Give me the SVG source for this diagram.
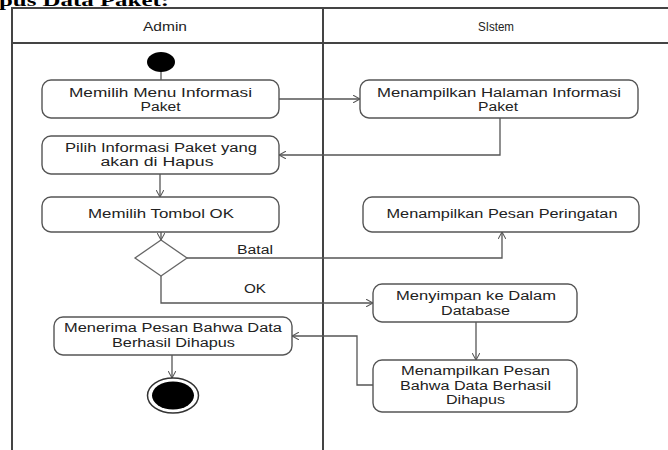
<svg xmlns="http://www.w3.org/2000/svg" width="668" height="450" viewBox="0 0 668 450">
<style>
.frame{stroke:#444;stroke-width:2;fill:none}
.box{fill:#fff;stroke:#555;stroke-width:1.4}
.t{font-family:"Liberation Sans","Open Sans",sans-serif;font-size:12.5px;fill:#222;text-anchor:middle}
.c{fill:none;stroke:#555;stroke-width:1.3}
.title{font-family:"Liberation Serif",serif;font-weight:bold;font-size:17px;fill:#000}
</style>
<defs>
<marker id="arr" viewBox="0 0 10 10" refX="9" refY="5" markerWidth="8" markerHeight="8" markerUnits="userSpaceOnUse" orient="auto">
<path d="M0,0 L9,5 L0,10" fill="none" stroke="#555" stroke-width="1.3"/>
</marker>
</defs>
<rect width="668" height="450" fill="#fff"/>
<text class="title" x="-1" y="6" textLength="170" lengthAdjust="spacingAndGlyphs">pus Data Paket:</text>
<g id="swimlanes">
<path class="frame" d="M12,450 V8 H668 M12,43 H668 M323,8 V450"/>
<text class="t" x="165" y="31" textLength="44" lengthAdjust="spacingAndGlyphs">Admin</text>
<text class="t" x="496" y="31" textLength="36" lengthAdjust="spacingAndGlyphs">SIstem</text>
</g>
<g id="connectors">
<line class="c" x1="161" y1="70" x2="161" y2="80"/>
<line class="c" x1="279" y1="99" x2="360" y2="99" marker-end="url(#arr)"/>
<path class="c" d="M500,118 V155 H279" marker-end="url(#arr)"/>
<line class="c" x1="160" y1="174" x2="160" y2="197" marker-end="url(#arr)"/>
<line class="c" x1="161" y1="232" x2="161" y2="240" marker-end="url(#arr)"/>
<path class="c" d="M187,258 H502 V232" marker-end="url(#arr)"/>
<path class="c" d="M161,276 V303 H373" marker-end="url(#arr)"/>
<line class="c" x1="476" y1="322" x2="476" y2="360" marker-end="url(#arr)"/>
<path class="c" d="M373,385 H357 V336 H292" marker-end="url(#arr)"/>
<line class="c" x1="172" y1="355" x2="172" y2="378" marker-end="url(#arr)"/>
<text class="t" x="255" y="254" textLength="36" lengthAdjust="spacingAndGlyphs">Batal</text>
<text class="t" x="255" y="293" textLength="22" lengthAdjust="spacingAndGlyphs">OK</text>
</g>
<g id="start">
<ellipse cx="161" cy="62" rx="14" ry="10" fill="#000"/>
</g>
<g id="n1">
<rect class="box" x="42" y="80" width="237" height="38" rx="9"/>
<text class="t" x="160.5" y="97" textLength="183" lengthAdjust="spacingAndGlyphs">Memilih Menu Informasi</text>
<text class="t" x="160.5" y="111" textLength="40" lengthAdjust="spacingAndGlyphs">Paket</text>
</g>
<g id="n2">
<rect class="box" x="42" y="136" width="237" height="38" rx="9"/>
<text class="t" x="161" y="152" textLength="192" lengthAdjust="spacingAndGlyphs">Pilih Informasi Paket yang</text>
<text class="t" x="157" y="166" textLength="113" lengthAdjust="spacingAndGlyphs">akan di Hapus</text>
</g>
<g id="n3">
<rect class="box" x="42" y="197" width="237" height="35" rx="9"/>
<text class="t" x="161" y="218" textLength="146" lengthAdjust="spacingAndGlyphs">Memilih Tombol OK</text>
</g>
<g id="decision">
<polygon points="161,240 187,258 161,276 135,258" fill="#fff" stroke="#666" stroke-width="1.3"/>
</g>
<g id="n4">
<rect class="box" x="360" y="80" width="278" height="38" rx="9"/>
<text class="t" x="499" y="97" textLength="244" lengthAdjust="spacingAndGlyphs">Menampilkan Halaman Informasi</text>
<text class="t" x="498" y="111" textLength="40" lengthAdjust="spacingAndGlyphs">Paket</text>
</g>
<g id="n5">
<rect class="box" x="363" y="197" width="276" height="35" rx="9"/>
<text class="t" x="502" y="218" textLength="231" lengthAdjust="spacingAndGlyphs">Menampilkan Pesan Peringatan</text>
</g>
<g id="n6">
<rect class="box" x="373" y="284" width="204" height="38" rx="9"/>
<text class="t" x="476" y="300" textLength="160" lengthAdjust="spacingAndGlyphs">Menyimpan ke Dalam</text>
<text class="t" x="475.5" y="315" textLength="69" lengthAdjust="spacingAndGlyphs">Database</text>
</g>
<g id="n7">
<rect class="box" x="373" y="360" width="204" height="52" rx="9"/>
<text class="t" x="475.5" y="375" textLength="149" lengthAdjust="spacingAndGlyphs">Menampilkan Pesan</text>
<text class="t" x="475.5" y="390" textLength="151" lengthAdjust="spacingAndGlyphs">Bahwa Data Berhasil</text>
<text class="t" x="475.5" y="404" textLength="59" lengthAdjust="spacingAndGlyphs">Dihapus</text>
</g>
<g id="n8">
<rect class="box" x="54" y="317" width="238" height="38" rx="9"/>
<text class="t" x="173" y="332" textLength="218" lengthAdjust="spacingAndGlyphs">Menerima Pesan Bahwa Data</text>
<text class="t" x="173.5" y="347" textLength="123" lengthAdjust="spacingAndGlyphs">Berhasil Dihapus</text>
</g>
<g id="end">
<ellipse cx="173" cy="395.5" rx="25.5" ry="17.5" fill="#fff" stroke="#333" stroke-width="1.5"/>
<ellipse cx="173" cy="395.5" rx="21" ry="14" fill="#000"/>
</g>
</svg>
